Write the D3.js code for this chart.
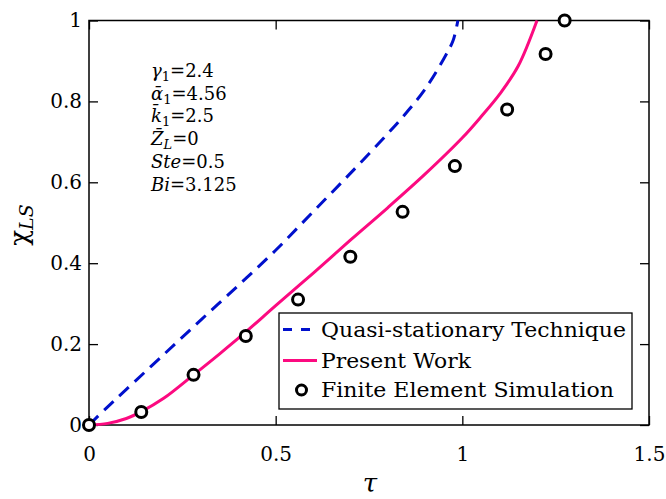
<!DOCTYPE html>
<html>
<head>
<meta charset="utf-8">
<script src="https://cdn.jsdelivr.net/npm/d3@7"></script>
<style>
  body { margin: 0; background: #fff; }
</style>
</head>
<body>
<div id="chart"></div>
<script>
// curves
const quasiTau = [0, 0.05, 0.1, 0.2, 0.3, 0.4, 0.5, 0.6, 0.7, 0.8, 0.85, 0.9, 0.95, 0.975, 0.988];
const quasiChi = [0, 0.045, 0.088, 0.174, 0.26, 0.345, 0.432, 0.527, 0.622, 0.72, 0.772, 0.83, 0.905, 0.95, 1.0];

const presentTau = [0, 0.05, 0.1, 0.14, 0.2, 0.28, 0.35, 0.42, 0.5, 0.6, 0.7, 0.8, 0.9, 1.0, 1.05, 1.1, 1.15, 1.2];
const presentChi = [0, 0.004, 0.016, 0.033, 0.066, 0.124, 0.176, 0.23, 0.295, 0.375, 0.457, 0.537, 0.62, 0.71, 0.762, 0.818, 0.888, 1.0];

const femTau = [0, 0.14, 0.28, 0.42, 0.56, 0.70, 0.84, 0.98, 1.12, 1.223, 1.274];
const femChi = [0, 0.032, 0.124, 0.22, 0.31, 0.416, 0.527, 0.64, 0.78, 0.917, 1.0];

const xTicks = [0, 0.5, 1, 1.5];
const yTicks = [0, 0.2, 0.4, 0.6, 0.8, 1];

const legendLabels = ["Quasi-stationary Technique", "Present Work", "Finite Element Simulation"];

const W = 666, H = 499;
const margin = { left: 89, right: 17, top: 20.5, bottom: 74 };
const serif = "DejaVu Serif";

const svg = d3.select("#chart").append("svg")
  .attr("width", W).attr("height", H)
  .style("font-family", serif);

const x = d3.scaleLinear().domain([0, 1.5]).range([margin.left, W - margin.right]);
const y = d3.scaleLinear().domain([0, 1]).range([H - margin.bottom, margin.top]);

const fmt = d => String(+d.toFixed(2));

// axes, ticks pointing in
const gx = svg.append("g").attr("transform", `translate(0,${y(0)})`)
  .call(d3.axisBottom(x).tickValues(xTicks).tickSize(-9).tickPadding(22).tickFormat(fmt));
const gxt = svg.append("g").attr("transform", `translate(0,${y(1)})`)
  .call(d3.axisTop(x).tickValues(xTicks).tickSize(-9).tickFormat(""));
const gy = svg.append("g").attr("transform", `translate(${x(0)},0)`)
  .call(d3.axisLeft(y).tickValues(yTicks).tickSize(-9).tickPadding(7).tickFormat(fmt));
const gyr = svg.append("g").attr("transform", `translate(${x(1.5)},0)`)
  .call(d3.axisRight(y).tickValues(yTicks).tickSize(-9).tickFormat(""));

[gx, gxt, gy, gyr].forEach(g => {
  g.attr("font-family", null);
  g.select(".domain").remove();
  g.selectAll("line").attr("stroke", "#000").attr("stroke-width", 1.3);
  g.selectAll("text").style("font-family", serif).attr("font-size", 20).attr("fill", "#000");
});

svg.append("rect")
  .attr("x", x(0)).attr("y", y(1))
  .attr("width", x(1.5) - x(0)).attr("height", y(0) - y(1))
  .attr("fill", "none").attr("stroke", "#000").attr("stroke-width", 1.5);

// curves
const line = d3.line().x(d => x(d[0])).y(d => y(d[1])).curve(d3.curveCatmullRom.alpha(0.5));

svg.append("path")
  .attr("d", line(quasiTau.map((t, i) => [t, quasiChi[i]])))
  .attr("fill", "none").attr("stroke", "#0010cc").attr("stroke-width", 3)
  .attr("stroke-dasharray", "13,8");

svg.append("path")
  .attr("d", line(presentTau.map((t, i) => [t, presentChi[i]])))
  .attr("fill", "none").attr("stroke", "#fc0a80").attr("stroke-width", 3);

svg.append("g").selectAll("circle")
  .data(femTau.map((t, i) => [t, femChi[i]]))
  .join("circle")
  .attr("cx", d => x(d[0])).attr("cy", d => y(d[1]))
  .attr("r", 5.5)
  .attr("fill", "#fff").attr("stroke", "#000").attr("stroke-width", 3);

// axis labels
svg.append("text")
  .attr("x", 370).attr("y", 492)
  .attr("text-anchor", "middle")
  .attr("font-size", 26).attr("font-style", "italic")
  .text("τ");

const yl = svg.append("text")
  .attr("transform", "translate(28,225) rotate(-90)")
  .attr("text-anchor", "middle")
  .attr("font-size", 26);
yl.append("tspan").text("χ");
yl.append("tspan").attr("font-style", "italic").attr("font-size", 19).attr("dy", 5).text("LS");

// parameter block
const params = [
  ["γ", "1", "=2.4"],
  ["α\u0304", "1", "=4.56"],
  ["k\u0304", "1", "=2.5"],
  ["Z\u0304", "L", "=0"],
  ["Ste", "", "=0.5"],
  ["Bi", "", "=3.125"]
];
params.forEach((p, i) => {
  const t = svg.append("text")
    .attr("x", 151).attr("y", 77 + i * 22.7)
    .attr("font-size", 18).attr("fill", "#000");
  t.append("tspan").attr("font-style", "italic").text(p[0]);
  if (p[1]) {
    t.append("tspan").attr("font-size", 13).attr("dy", 4)
      .attr("font-style", p[1] === "L" ? "italic" : "normal").text(p[1]);
    t.append("tspan").attr("dy", -4).text(p[2]);
  } else {
    t.append("tspan").text(p[2]);
  }
});

// legend
const leg = svg.append("g");
leg.append("rect")
  .attr("x", 279).attr("y", 313).attr("width", 353).attr("height", 96)
  .attr("fill", "#fff").attr("stroke", "#000").attr("stroke-width", 1.3);

const rowY = [329.5, 360.5, 390];
const labelWidth = [305, 150, 293];

leg.append("line").attr("x1", 283).attr("x2", 317).attr("y1", rowY[0]).attr("y2", rowY[0])
  .attr("stroke", "#0010cc").attr("stroke-width", 3).attr("stroke-dasharray", "9,9");
leg.append("line").attr("x1", 283).attr("x2", 317).attr("y1", rowY[1]).attr("y2", rowY[1])
  .attr("stroke", "#fc0a80").attr("stroke-width", 3);
leg.append("circle").attr("cx", 301.5).attr("cy", rowY[2]).attr("r", 5)
  .attr("fill", "#fff").attr("stroke", "#000").attr("stroke-width", 3);

legendLabels.forEach((s, i) => {
  leg.append("text")
    .attr("x", 321).attr("y", rowY[i]).attr("dy", "0.35em")
    .attr("font-size", 20).attr("fill", "#000")
    .attr("textLength", labelWidth[i]).attr("lengthAdjust", "spacingAndGlyphs")
    .text(s);
});
</script>
</body>
</html>
